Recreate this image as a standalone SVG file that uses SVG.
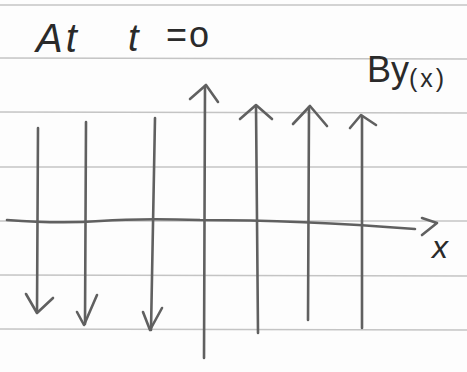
<svg xmlns="http://www.w3.org/2000/svg" width="467" height="372" viewBox="0 0 467 372">
<style>
.rule{stroke:#c4c4c4;stroke-width:1.6;fill:none}
.pen{stroke:#606060;stroke-width:2.6;fill:none;stroke-linecap:round;stroke-linejoin:round}
.txt{font-family:"Liberation Sans",sans-serif;fill:#2a2a2a}
</style>
<rect width="467" height="372" fill="#fdfdfd"/>
<g id="paper">
<line class="rule" x1="0" y1="5" x2="467" y2="5"/>
<line class="rule" x1="0" y1="58" x2="467" y2="59"/>
<line class="rule" x1="0" y1="112" x2="467" y2="113"/>
<line class="rule" x1="0" y1="167" x2="467" y2="167"/>
<line class="rule" x1="0" y1="221" x2="467" y2="221"/>
<line class="rule" x1="0" y1="275" x2="467" y2="276"/>
<line class="rule" x1="0" y1="329" x2="467" y2="330"/>
</g>
<g id="title"><text class="txt" x="36" y="52" font-size="40" font-style="italic" letter-spacing="3">At</text><text class="txt" x="128" y="51" font-size="38" font-style="italic">t</text><text class="txt" x="166" y="47" font-size="36" letter-spacing="2">=o</text></g>
<g id="label-By"><text class="txt" x="367" y="82" font-size="36" fill="#444">By<tspan font-size="25" dy="5" letter-spacing="3">(x)</tspan></text></g>
<g id="connectors">
<g id="axis"><path class="pen" d="M7 220 Q60 224 100 221 T200 220 Q300 220 415 229" stroke="#444"/><path class="pen" d="M422 218 L437 223 L422 235"/></g>
<g id="down1"><path class="pen" d="M38 128 L37 312"/><path class="pen" d="M26 294 L37 313 L53 298"/></g>
<g id="down2"><path class="pen" d="M86 122 L85 324"/><path class="pen" d="M77 312 L84 325 L97 295"/></g>
<g id="down3"><path class="pen" d="M155 118 L151 330"/><path class="pen" d="M143 312 L150 330 L162 308"/></g>
<g id="up1"><path class="pen" d="M205 86 L204 358"/><path class="pen" d="M190 99 L206 85 L218 102"/></g>
<g id="up2"><path class="pen" d="M256 106 L258 333"/><path class="pen" d="M240 119 L256 105 L272 119"/></g>
<g id="up3"><path class="pen" d="M309 107 L308 320"/><path class="pen" d="M293 124 L310 106 L327 126"/></g>
<g id="up4"><path class="pen" d="M362 116 L362 328"/><path class="pen" d="M350 128 L361 115 L376 125"/></g>
</g>
<g id="label-x"><text class="txt" x="432" y="258" font-size="32" font-style="italic" fill="#555">x</text></g>
</svg>
